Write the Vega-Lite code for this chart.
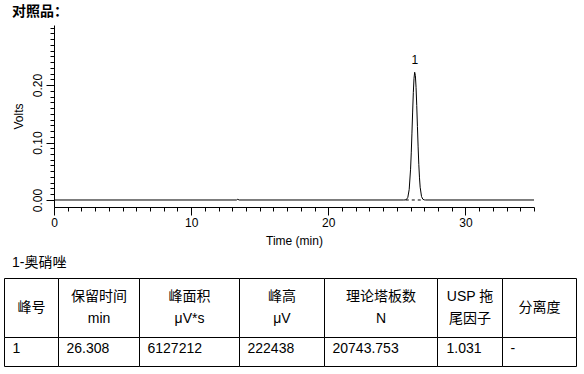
{
  "$schema": "https://vega.github.io/schema/vega-lite/v6.json",
  "padding": {"left": 4, "top": 5, "right": 4, "bottom": 4},
  "background": "white",
  "bounds": "flush",
  "spacing": 71,
  "config": {
    "font": "Liberation Sans, Noto Sans CJK SC",
    "view": {"stroke": null},
    "axis": {
      "domainColor": "black", "tickColor": "black", "labelColor": "black", "titleColor": "black",
      "labelFont": "Liberation Sans", "titleFont": "Liberation Sans",
      "labelFontSize": 12, "titleFontSize": 12, "titleFontWeight": "normal",
      "grid": false, "domainWidth": 1, "tickWidth": 1, "labelFlush": false, "labelOverlap": false
    }
  },
  "vconcat": [
    {
      "title": {"text": "对照品：", "anchor": "start", "frame": "group", "dx": -42, "fontSize": 14, "fontWeight": "bold", "font": "Noto Sans CJK SC", "offset": 6, "color": "black"},
      "width": 480,
      "height": 182,
      "layer": [
        {
          "data": {"values": [
            {"t": 0, "v": 0}, {"t": 13.3, "v": 0}, {"t": 13.4, "v": 0.0012}, {"t": 13.5, "v": 0},
            {"t": 25.5, "v": 0}, {"t": 25.6, "v": 0.0001}, {"t": 25.7, "v": 0.0009}, {"t": 25.8, "v": 0.0046},
            {"t": 25.9, "v": 0.0183}, {"t": 26.0, "v": 0.0536}, {"t": 26.05, "v": 0.082}, {"t": 26.1, "v": 0.1163},
            {"t": 26.15, "v": 0.153}, {"t": 26.2, "v": 0.1867}, {"t": 26.25, "v": 0.2115}, {"t": 26.3, "v": 0.2222},
            {"t": 26.35, "v": 0.2166}, {"t": 26.4, "v": 0.1959}, {"t": 26.45, "v": 0.1644}, {"t": 26.5, "v": 0.128},
            {"t": 26.55, "v": 0.0924}, {"t": 26.6, "v": 0.0619}, {"t": 26.65, "v": 0.0385}, {"t": 26.7, "v": 0.0222},
            {"t": 26.8, "v": 0.0059}, {"t": 26.9, "v": 0.0012}, {"t": 27.0, "v": 0.0002}, {"t": 27.1, "v": 0},
            {"t": 35, "v": 0}
          ]},
          "mark": {"type": "line", "color": "black", "strokeWidth": 1},
          "encoding": {
            "x": {"field": "t", "type": "quantitative", "scale": {"domain": [0, 35], "nice": false, "zero": false},
                  "axis": {"orient": "bottom", "values": [0,1,2,3,4,5,6,7,8,9,10,11,12,13,14,15,16,17,18,19,20,21,22,23,24,25,26,27,28,29,30,31,32,33,34,35], "tickSize": 4, "labels": false, "title": null}},
            "y": {"field": "v", "type": "quantitative", "scale": {"domain": [-0.0122, 0.3044], "nice": false, "zero": false},
                  "axis": {"orient": "left", "values": [0,0.01,0.02,0.03,0.04,0.05,0.06,0.07,0.08,0.09,0.1,0.11,0.12,0.13,0.14,0.15,0.16,0.17,0.18,0.19,0.2,0.21,0.22,0.23,0.24,0.25,0.26,0.27,0.28,0.29,0.3], "tickSize": 4, "labels": false, "title": null}}
          }
        },
        {
          "data": {"values": [{"t": 25.65, "v": 0}, {"t": 26.95, "v": 0}]},
          "mark": {"type": "line", "color": "black", "strokeWidth": 1, "strokeDash": [3, 3]},
          "encoding": {
            "x": {"field": "t", "type": "quantitative",
                  "axis": {"orient": "bottom", "values": [0, 10, 20, 30], "tickSize": 8, "labelPadding": 2, "domain": false, "title": "Time (min)", "titlePadding": 7}},
            "y": {"field": "v", "type": "quantitative",
                  "axis": {"orient": "left", "values": [0, 0.1, 0.2], "format": ".2f", "tickSize": 8, "labelAngle": -90, "labelAlign": "center", "labelBaseline": "bottom", "labelPadding": 2, "domain": false, "title": "Volts", "titlePadding": 6}}
          }
        },
        {
          "data": {"values": [{"t": 26.308, "v": 0.2224, "label": "1"}]},
          "mark": {"type": "text", "dy": -12, "fontSize": 12, "color": "black", "font": "Liberation Sans"},
          "encoding": {
            "x": {"field": "t", "type": "quantitative", "axis": null},
            "y": {"field": "v", "type": "quantitative", "axis": null},
            "text": {"field": "label"}
          }
        }
      ],
      "resolve": {"axis": {"x": "independent", "y": "independent"}}
    },
    {
      "title": {"text": "1-奥硝唑", "anchor": "start", "frame": "group", "dx": -42, "fontSize": 14, "fontWeight": "normal", "offset": 8, "color": "black"},
      "width": 480,
      "height": 88,
      "layer": [
        {
          "data": {"values": [
            {"x0": 0, "x1": 54, "y0": 0, "y1": 59}, {"x0": 54, "x1": 135, "y0": 0, "y1": 59},
            {"x0": 135, "x1": 235, "y0": 0, "y1": 59}, {"x0": 235, "x1": 320, "y0": 0, "y1": 59},
            {"x0": 320, "x1": 433, "y0": 0, "y1": 59}, {"x0": 433, "x1": 498, "y0": 0, "y1": 59},
            {"x0": 498, "x1": 572, "y0": 0, "y1": 59},
            {"x0": 0, "x1": 54, "y0": 59, "y1": 88}, {"x0": 54, "x1": 135, "y0": 59, "y1": 88},
            {"x0": 135, "x1": 235, "y0": 59, "y1": 88}, {"x0": 235, "x1": 320, "y0": 59, "y1": 88},
            {"x0": 320, "x1": 433, "y0": 59, "y1": 88}, {"x0": 433, "x1": 498, "y0": 59, "y1": 88},
            {"x0": 498, "x1": 572, "y0": 59, "y1": 88}
          ]},
          "mark": {"type": "rect", "fill": "white", "stroke": "black", "strokeWidth": 1},
          "encoding": {
            "x": {"field": "x0", "type": "quantitative", "scale": {"domain": [49.5, 529.5], "nice": false, "zero": false}, "axis": null},
            "x2": {"field": "x1"},
            "y": {"field": "y0", "type": "quantitative", "scale": {"domain": [-0.5, 87.5], "reverse": true, "nice": false, "zero": false}, "axis": null},
            "y2": {"field": "y1"}
          }
        },
        {
          "data": {"values": [
            {"xc": 27, "yc": 29, "label": "峰号"},
            {"xc": 94.5, "yc": 18.7, "label": "保留时间\nmin"},
            {"xc": 185, "yc": 18.7, "label": "峰面积\nμV*s"},
            {"xc": 277.5, "yc": 18.7, "label": "峰高\nμV"},
            {"xc": 376.5, "yc": 18.7, "label": "理论塔板数\nN"},
            {"xc": 465.5, "yc": 18.7, "label": "USP 拖\n尾因子"},
            {"xc": 535, "yc": 29, "label": "分离度"}
          ]},
          "mark": {"type": "text", "align": "center", "baseline": "middle", "fontSize": 14, "lineBreak": "\n", "lineHeight": 21.5, "color": "black"},
          "encoding": {
            "x": {"field": "xc", "type": "quantitative", "axis": null},
            "y": {"field": "yc", "type": "quantitative", "axis": null},
            "text": {"field": "label"}
          }
        },
        {
          "data": {"values": [
            {"xl": 8, "yc": 70.5, "label": "1"},
            {"xl": 62, "yc": 70.5, "label": "26.308"},
            {"xl": 143, "yc": 70.5, "label": "6127212"},
            {"xl": 243, "yc": 70.5, "label": "222438"},
            {"xl": 328, "yc": 70.5, "label": "20743.753"},
            {"xl": 442, "yc": 70.5, "label": "1.031"},
            {"xl": 506, "yc": 70.5, "label": "-"}
          ]},
          "mark": {"type": "text", "align": "left", "baseline": "middle", "fontSize": 14, "color": "black"},
          "encoding": {
            "x": {"field": "xl", "type": "quantitative", "axis": null},
            "y": {"field": "yc", "type": "quantitative", "axis": null},
            "text": {"field": "label"}
          }
        }
      ]
    }
  ]
}
